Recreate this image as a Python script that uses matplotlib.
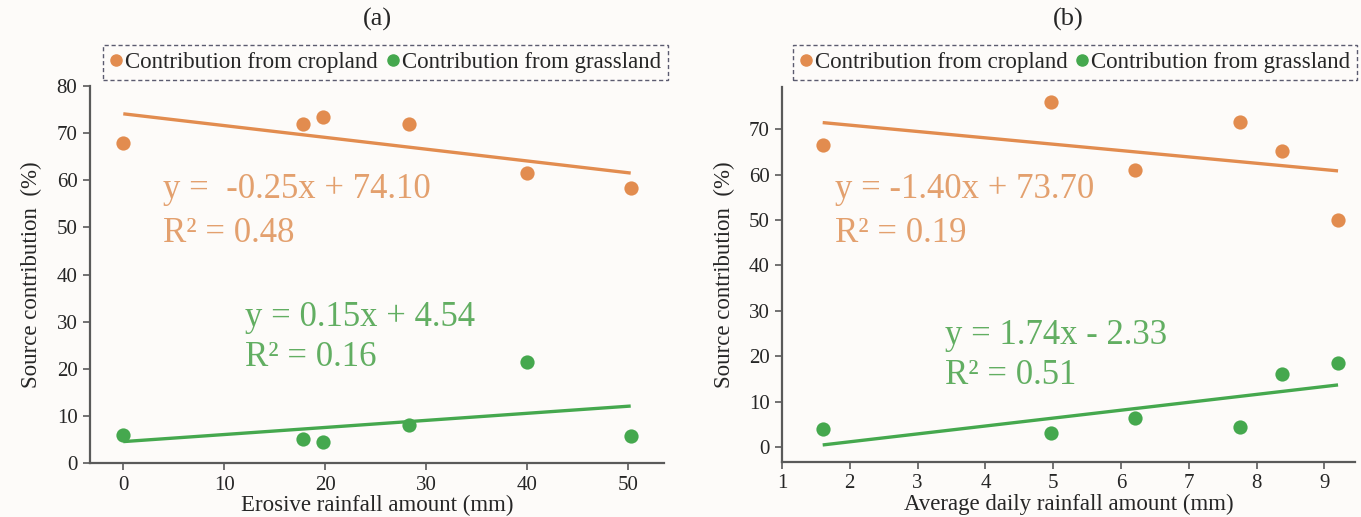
import numpy as np
import matplotlib.pyplot as plt
from matplotlib.lines import Line2D

plt.rcParams['font.family'] = ['Liberation Serif', 'DejaVu Serif']

# panel (a): erosive rainfall
x_a = [0, 17.8, 19.8, 28.3, 40.0, 50.3]
crop_a = [68.0, 72.0, 73.5, 72.0, 61.5, 58.3]
grass_a = [6.0, 5.0, 4.5, 8.0, 21.5, 5.7]
fit_crop_a = (-0.25, 74.10, 0.48)
fit_grass_a = (0.15, 4.54, 0.16)

# panel (b): average daily rainfall
x_b = [1.6, 4.97, 6.2, 7.75, 8.37, 9.2]
crop_b = [66.5, 76.0, 61.0, 71.5, 65.3, 50.0]
grass_b = [4.0, 3.0, 6.3, 4.3, 16.0, 18.5]
fit_crop_b = (-1.40, 73.70, 0.19)
fit_grass_b = (1.74, -2.33, 0.51)

ORANGE = '#E28C4F'
GREEN = '#45A84E'
ORANGE_T = '#E3A06E'
GREEN_T = '#62AE62'
AXC = '#5a5a5a'
TXT = '#262626'
BG = '#FDFBF9'

W, H = 1361, 517
fig = plt.figure(figsize=(W / 100, H / 100), dpi=100, facecolor=BG)


def px(x0, y0, x1, y1):
    return [x0 / W, 1 - y1 / H, (x1 - x0) / W, (y1 - y0) / H]


def eq(m, b):
    sign = '+' if b >= 0 else '-'
    return f'{m:.2f}x {sign} {abs(b):.2f}'


def panel(rect, x, crop, grass, fc, fg, xlim, ylim, xticks, yticks, xlabel, title,
          t_crop, t_grass, pad_eq, leg_rect, ylab_x):
    ax = fig.add_axes(rect)
    ax.set_facecolor(BG)
    xs = np.array([min(x), max(x)])
    ax.plot(xs, fc[0] * xs + fc[1], color=ORANGE, lw=2.4, solid_capstyle='butt')
    ax.plot(xs, fg[0] * xs + fg[1], color=GREEN, lw=2.4, solid_capstyle='butt')
    ax.scatter(x, crop, s=105, color=ORANGE, zorder=3, linewidths=0)
    ax.scatter(x, grass, s=105, color=GREEN, zorder=3, linewidths=0)
    ax.set_xlim(*xlim)
    ax.set_ylim(*ylim)
    ax.set_xticks(xticks)
    ax.set_yticks(yticks)
    for s in ['top', 'right']:
        ax.spines[s].set_visible(False)
    for s in ['left', 'bottom']:
        ax.spines[s].set_color(AXC)
        ax.spines[s].set_linewidth(1.6)
    ax.tick_params(colors=TXT, labelsize=15, length=5, width=1.2, color=AXC, pad=4)
    ax.set_xlabel(xlabel, fontsize=16.5, labelpad=0, color=TXT)
    ax.set_ylabel('Source contribution  (%)', fontsize=16.5, color=TXT)
    ax.yaxis.set_label_coords((ylab_x - rect[0] * W) / (rect[2] * W), 0.5)

    fig.text(t_crop[0] / W, 1 - t_crop[1] / H, f'y = {pad_eq}{eq(fc[0], fc[1])}',
             fontsize=25, color=ORANGE_T, va='center')
    fig.text(t_crop[0] / W, 1 - (t_crop[1] + 43) / H, f'R² = {fc[2]:.2f}',
             fontsize=25, color=ORANGE_T, va='center')
    fig.text(t_grass[0] / W, 1 - t_grass[1] / H, f'y = {eq(fg[0], fg[1])}',
             fontsize=25, color=GREEN_T, va='center')
    fig.text(t_grass[0] / W, 1 - (t_grass[1] + 40) / H, f'R² = {fg[2]:.2f}',
             fontsize=25, color=GREEN_T, va='center')

    fig.text((rect[0] + rect[2] / 2), 1 - 19 / H, title, fontsize=19,
             ha='center', va='center', color=TXT)

    lax = fig.add_axes(leg_rect)
    lax.set_axis_off()
    handles = [Line2D([], [], ls='none', marker='o', ms=8, color=ORANGE),
               Line2D([], [], ls='none', marker='o', ms=8, color=GREEN)]
    leg = lax.legend(handles, ['Contribution from cropland', 'Contribution from grassland'],
                     loc='center', ncol=2, fontsize=16.5, frameon=True, fancybox=False,
                     handlelength=0.5, handletextpad=0.15, columnspacing=0.4,
                     borderpad=0.3, borderaxespad=0, mode='expand',
                     bbox_to_anchor=(0, 0, 1, 1))
    for t in leg.get_texts():
        t.set_color(TXT)
    fr = leg.get_frame()
    fr.set_linestyle((0, (3, 2)))
    fr.set_edgecolor('#33334d')
    fr.set_linewidth(1.0)
    fr.set_facecolor(BG)
    return ax


panel(px(90, 86, 664, 463), x_a, crop_a, grass_a, fit_crop_a, fit_grass_a,
      (-3.3, 53.6), (0, 80), [0, 10, 20, 30, 40, 50], np.arange(0, 81, 10),
      'Erosive rainfall amount (mm)', '(a)', (163, 190), (245, 318), ' ',
      px(103, 42, 668, 83), 42)

panel(px(782, 87, 1355, 462), x_b, crop_b, grass_b, fit_crop_b, fit_grass_b,
      (1, 9.45), (-3.3, 79.3), np.arange(1, 10), np.arange(0, 71, 10),
      'Average daily rainfall amount (mm)', '(b)', (835, 190), (945, 335), '',
      px(793, 42, 1357, 83), 735)

fig.savefig('out.png', dpi=100, facecolor=BG)
